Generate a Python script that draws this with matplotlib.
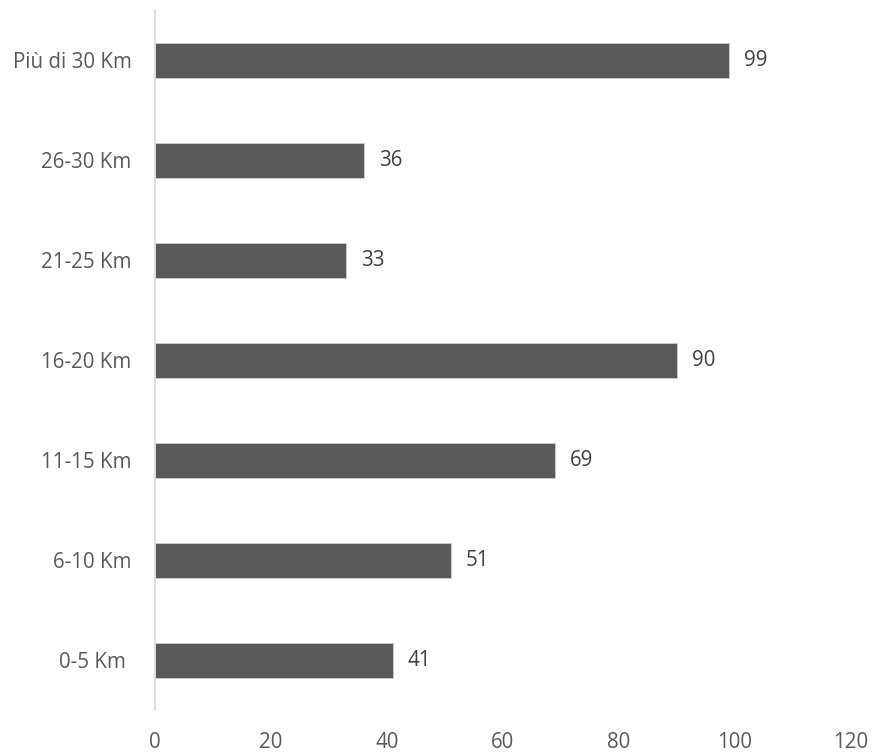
import matplotlib.pyplot as plt

categories = ['0-5 Km ', '6-10 Km', '11-15 Km', '16-20 Km', '21-25 Km', '26-30 Km', 'Più di 30 Km']
values = [41, 51, 69, 90, 33, 36, 99]
xticks = [0, 20, 40, 60, 80, 100, 120]

plt.rcParams['font.family'] = ['Open Sans', 'DejaVu Sans']
txt = '#595959'
fs = 14.8

fig = plt.figure(figsize=(8.75, 7.52), dpi=100)
ax = fig.add_axes([155/875, 1-710/752, (851-155)/875, 700/752])

pos = list(range(len(categories)))
ax.barh(pos, values, height=0.35, color='#595959', edgecolor='#cfcfcf', linewidth=0.6)

for p, v in zip(pos, values):
    ax.text(v + 2.6, p, str(v), va='center', ha='left', fontsize=fs, color='#404040')

ax.set_xlim(0, 120)
ax.set_ylim(-0.5, len(categories) - 0.5)
ax.set_yticks(pos)
ax.set_yticklabels(categories)
ax.set_xticks(xticks)
ax.tick_params(axis='y', length=0, pad=17, labelsize=fs, labelcolor=txt)
ax.tick_params(axis='x', length=0, pad=16, labelsize=fs, labelcolor=txt)

for s in ['top', 'right', 'bottom']:
    ax.spines[s].set_visible(False)
ax.spines['left'].set_color('#d9d9d9')
ax.spines['left'].set_linewidth(1.2)

fig.savefig('out.png', dpi=100)
